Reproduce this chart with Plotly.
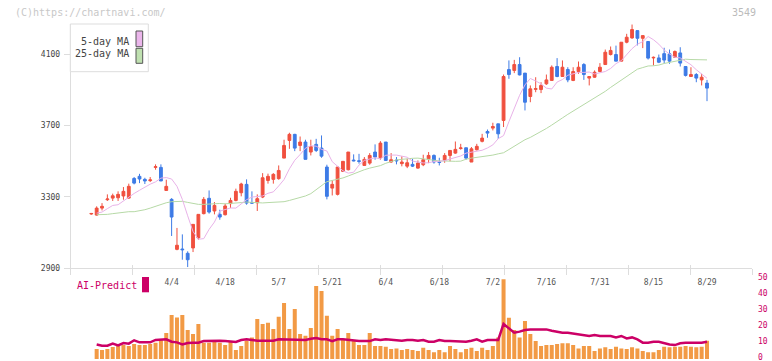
import plotly.graph_objects as go

W, H = 772, 361

# ---------------- data ----------------
# trading days 2024-03-13 .. 2024-08-29, index 0..115
opens = [3204, 3198, 3237, 3284, 3293, 3295, 3305, 3293, 3403, 3415,
         3398, 3391, 3465, 3465, 3336, 3286, 3006, 3008, 2984, 3014,
         3070, 3206, 3292, 3221, 3202, 3200, 3262, 3280, 3323, 3370,
         3268, 3267, 3299, 3392, 3398, 3402, 3517, 3616, 3650, 3588,
         3607, 3551, 3594, 3573, 3467, 3349, 3314, 3443, 3452, 3506,
         3502, 3476, 3489, 3551, 3519, 3607, 3495, 3506, 3486, 3472,
         3482, 3461, 3480, 3513, 3532, 3497, 3504, 3532, 3545, 3571,
         3575, 3495, 3564, 3611, 3666, 3685, 3709, 3728, 4013, 4008,
         4041, 3993, 3862, 3902, 3901, 3933, 3952, 4030, 3974, 4013,
         3952, 4002, 4041, 3965, 3970, 4002, 4041, 4097, 4097, 4060,
         4166, 4190, 4231, 4188, 4170, 4078, 4078, 4102, 4101, 4082,
         4106, 4030, 3974, 3985, 3955, 3937]
highs = [3210, 3247, 3265, 3314, 3318, 3331, 3355, 3374, 3411, 3429,
         3407, 3411, 3482, 3482, 3396, 3293, 3126, 3090, 2995, 3146,
         3202, 3299, 3336, 3271, 3228, 3262, 3295, 3346, 3379, 3398,
         3331, 3314, 3433, 3430, 3433, 3476, 3620, 3659, 3653, 3638,
         3620, 3620, 3625, 3644, 3480, 3392, 3467, 3499, 3551, 3538,
         3541, 3523, 3545, 3594, 3612, 3607, 3545, 3523, 3527, 3513,
         3513, 3504, 3536, 3551, 3538, 3519, 3545, 3560, 3610, 3597,
         3575, 3579, 3597, 3653, 3677, 3715, 3709, 3985, 4064, 4067,
         4082, 3993, 3924, 3970, 3942, 3985, 4036, 4077, 4064, 4026,
         4026, 4058, 4049, 3974, 4008, 4049, 4125, 4142, 4147, 4166,
         4213, 4265, 4231, 4203, 4170, 4086, 4097, 4135, 4125, 4120,
         4138, 4030, 4026, 3993, 3989, 3955]
lows = [3200, 3195, 3224, 3277, 3277, 3277, 3284, 3290, 3370, 3377,
        3372, 3383, 3452, 3389, 3336, 3081, 3001, 2948, 2907, 2991,
        3060, 3202, 3206, 3202, 3172, 3196, 3237, 3275, 3303, 3256,
        3262, 3221, 3293, 3374, 3374, 3396, 3517, 3569, 3556, 3556,
        3510, 3532, 3551, 3519, 3286, 3308, 3308, 3439, 3448, 3499,
        3486, 3476, 3480, 3508, 3508, 3504, 3491, 3482, 3471, 3461,
        3467, 3458, 3472, 3489, 3486, 3476, 3491, 3499, 3541, 3564,
        3508, 3495, 3560, 3605, 3631, 3672, 3625, 3691, 3961, 3993,
        3980, 3784, 3830, 3886, 3881, 3927, 3952, 3970, 3974, 3942,
        3948, 3989, 3955, 3924, 3967, 3998, 4041, 4092, 4060, 4060,
        4160, 4185, 4148, 4133, 4069, 4036, 4049, 4048, 4045, 4078,
        4030, 3974, 3974, 3942, 3924, 3836]
closes = [3207, 3237, 3247, 3288, 3306, 3314, 3331, 3359, 3377, 3400,
          3389, 3395, 3469, 3389, 3359, 3187, 3029, 3004, 2948, 3146,
          3202, 3286, 3215, 3252, 3187, 3249, 3280, 3331, 3372, 3265,
          3265, 3290, 3407, 3415, 3426, 3448, 3588, 3650, 3573, 3607,
          3510, 3582, 3560, 3528, 3303, 3370, 3467, 3499, 3551, 3502,
          3499, 3510, 3532, 3523, 3601, 3504, 3508, 3502, 3495, 3491,
          3472, 3489, 3508, 3532, 3495, 3493, 3532, 3560, 3566, 3574,
          3517, 3569, 3583, 3629, 3657, 3694, 3653, 3974, 3985, 4041,
          3983, 3830, 3905, 3906, 3924, 3955, 4026, 3974, 4026, 3955,
          4002, 4026, 3985, 3974, 3998, 4026, 4110, 4120, 4060, 4166,
          4194, 4237, 4188, 4203, 4077, 4081, 4054, 4066, 4060, 4114,
          4049, 3980, 3985, 3965, 3970, 3909]
days = list(range(len(closes)))
line_days = days[1:]

ma5 = [3209, 3215, 3234, 3252, 3256, 3278, 3297, 3319, 3337, 3356,
       3371, 3384, 3405, 3408, 3400, 3359, 3286, 3194, 3106, 3063,
       3066, 3118, 3159, 3220, 3228, 3238, 3237, 3260, 3284, 3299,
       3303, 3305, 3320, 3328, 3361, 3397, 3457, 3505, 3537, 3573,
       3586, 3584, 3566, 3557, 3497, 3469, 3446, 3433, 3438, 3478,
       3504, 3512, 3519, 3513, 3533, 3534, 3534, 3528, 3522, 3500,
       3494, 3490, 3491, 3498, 3499, 3503, 3512, 3522, 3529, 3545,
       3550, 3557, 3561, 3574, 3591, 3626, 3643, 3721, 3793, 3869,
       3927, 3963, 3949, 3933, 3909, 3904, 3943, 3957, 3981, 3987,
       3997, 3997, 3999, 3988, 3997, 4002, 4019, 4046, 4063, 4096,
       4130, 4155, 4169, 4198, 4180, 4155, 4122, 4100, 4082, 4078,
       4060, 4040, 4012, 3988, 3964]
ma25 = [3200, 3200, 3202, 3206, 3211, 3215, 3217, 3217, 3221, 3228,
        3237, 3247, 3258, 3267, 3273, 3276, 3275, 3269, 3262, 3258,
        3258, 3260, 3262, 3263, 3261, 3262, 3264, 3268, 3271, 3269,
        3267, 3266, 3268, 3269, 3270, 3273, 3280, 3288, 3295, 3305,
        3318, 3340, 3362, 3385, 3392, 3398, 3406, 3417, 3429, 3442,
        3452, 3461, 3469, 3475, 3488, 3498, 3507, 3510, 3514, 3516,
        3517, 3513, 3507, 3506, 3501, 3501, 3499, 3499, 3500, 3511,
        3517, 3521, 3524, 3527, 3534, 3541, 3547, 3565, 3583, 3601,
        3620, 3633, 3649, 3665, 3683, 3702, 3724, 3742, 3762, 3780,
        3801, 3820, 3837, 3854, 3871, 3891, 3913, 3934, 3952, 3972,
        3992, 4015, 4024, 4033, 4034, 4038, 4047, 4053, 4059, 4067,
        4071, 4069, 4069, 4067, 4067]

ai_bars = [6.2, 5.6, 6.2, 7.5, 8.1, 8.7, 8.1, 9.4, 8.7, 8.7,
           9.4, 10.2, 12.3, 16.2, 27.5, 26.0, 27.5, 18.1, 15.6, 21.9,
           10.2, 10.2, 11.4, 10.2, 8.7, 10.8, 5.6, 8.1, 11.4, 13.5,
           25.0, 21.9, 22.7, 18.7, 26.4, 35.0, 18.7, 31.2, 15.6, 14.6,
           19.4, 45.6, 42.5, 27.1, 14.6, 18.7, 12.3, 16.2, 11.4, 8.7,
           8.7, 16.2, 8.1, 8.1, 7.7, 6.2, 6.6, 5.6, 6.2, 5.6,
           5.0, 7.1, 5.6, 4.2, 5.6, 4.2, 8.1, 6.2, 4.2, 6.2,
           7.1, 5.0, 7.1, 5.6, 8.1, 13.5, 49.8, 25.8, 18.1, 13.5,
           23.7, 15.6, 11.2, 8.1, 8.7, 8.7, 9.4, 9.8, 9.8, 8.7,
           6.6, 8.1, 8.1, 5.0, 6.6, 7.3, 6.2, 7.7, 6.6, 6.2,
           7.3, 6.6, 5.0, 4.2, 4.2, 5.6, 7.7, 7.3, 7.7, 7.7,
           8.1, 7.7, 7.3, 7.7, 11.4]
ai_line = [9.1, 8.3, 8.3, 9.6, 8.5, 10.0, 9.6, 11.7, 10.4, 10.4,
           10.4, 11.9, 12.3, 12.3, 10.8, 10.4, 9.1, 10.0, 10.2, 10.2,
           11.2, 11.4, 11.4, 11.4, 11.2, 11.0, 10.6, 11.9, 12.3, 11.9,
           11.4, 11.4, 11.4, 11.4, 12.3, 12.3, 12.3, 12.3, 12.3, 11.9,
           12.7, 13.1, 12.3, 12.3, 11.2, 12.3, 12.3, 11.9, 11.2, 11.2,
           11.2, 11.2, 12.3, 11.9, 12.3, 11.9, 11.4, 11.4, 11.9, 11.9,
           11.4, 11.9, 10.8, 10.8, 11.9, 11.2, 11.2, 11.2, 11.2, 10.8,
           11.4, 12.3, 10.8, 11.9, 11.9, 11.9, 21.9, 19.1, 16.4, 17.1,
           18.1, 18.5, 18.5, 18.5, 18.5, 17.7, 17.1, 16.4, 16.4, 16.0,
           15.6, 15.0, 14.4, 15.0, 14.4, 14.4, 14.4, 13.5, 14.4, 12.9,
           13.5, 12.3, 10.2, 10.2, 10.8, 10.8, 9.8, 9.1, 8.7, 9.8,
           10.2, 10.2, 10.2, 10.2, 10.8]

date_labels = ["4/4", "4/18", "5/7", "5/21", "6/4", "6/18",
               "7/2", "7/16", "7/31", "8/15", "8/29"]
date_label_days = [15, 25, 35, 45, 55, 65, 75, 85, 95, 105, 115]
price_ticks = [2900, 3300, 3700, 4100]
ai_ticks = [0, 10, 20, 30, 40, 50]

# ---------------- styles ----------------
UP = "#f0503f"
DN = "#3d7be6"
MA5_C = "#e8b2e8"
MA25_C = "#b6d9a6"
BAR_C = "#f29a45"
AI_C = "#cc0066"
AXIS_C = "#dddddd"
FONT = "DejaVu Sans Mono"


def px(v):
    return v / W


def py(v):
    return 1 - v / H


X_DOM = [px(70.7), px(752.3)]
X_RANGE = [-3.85, 123.46]

fig = go.Figure()

fig.add_trace(go.Bar(
    x=line_days, y=ai_bars, width=0.75, marker=dict(color=BAR_C, line=dict(width=0)),
    xaxis="x2", yaxis="y2", hoverinfo="skip"))
fig.add_trace(go.Scatter(
    x=line_days, y=ai_line, mode="lines", line=dict(color=AI_C, width=2.5),
    xaxis="x2", yaxis="y2", hoverinfo="skip"))

fig.add_trace(go.Scatter(
    x=line_days, y=ma25, mode="lines", line=dict(color=MA25_C, width=1),
    xaxis="x", yaxis="y", hoverinfo="skip"))
fig.add_trace(go.Scatter(
    x=line_days, y=ma5, mode="lines", line=dict(color=MA5_C, width=1),
    xaxis="x", yaxis="y", hoverinfo="skip"))

fig.add_trace(go.Candlestick(
    x=days, open=opens, high=highs, low=lows, close=closes,
    increasing=dict(line=dict(color=UP, width=1), fillcolor=UP),
    decreasing=dict(line=dict(color=DN, width=1), fillcolor=DN),
    whiskerwidth=0, xaxis="x", yaxis="y", hoverinfo="skip"))

# empty helpers so the tick-mark overlay axes are drawn
fig.add_trace(go.Scatter(x=[], y=[], xaxis="x3", yaxis="y", hoverinfo="skip"))
fig.add_trace(go.Scatter(x=[], y=[], xaxis="x4", yaxis="y", hoverinfo="skip"))

tick_axis = dict(overlaying="x", anchor="y", domain=X_DOM, range=[0, 11],
                 tickmode="linear", tick0=0, dtick=1, showticklabels=False,
                 showline=False, showgrid=False, zeroline=False,
                 tickcolor=AXIS_C, tickwidth=1, automargin=False)

fig.update_layout(
    width=W, height=H, margin=dict(l=0, r=0, t=0, b=0, pad=0, autoexpand=False),
    paper_bgcolor="white", plot_bgcolor="white", showlegend=False,
    font=dict(family=FONT), boxgap=0.25,
    xaxis=dict(domain=X_DOM, range=X_RANGE, anchor="y", automargin=False,
               rangeslider=dict(visible=False),
               tickmode="array", tickvals=date_label_days, ticktext=date_labels,
               ticks="", showline=True, linecolor=AXIS_C, linewidth=1,
               showgrid=False, zeroline=False, ticklabelstandoff=6,
               tickfont=dict(family=FONT, size=8, color="#555555")),
    xaxis3=dict(tick_axis, ticks="outside", ticklen=6),
    xaxis4=dict(tick_axis, ticks="inside", ticklen=3),
    yaxis=dict(domain=[py(268.3), py(24)], range=[2900, 4268], anchor="x",
               automargin=False,
               tickmode="array", tickvals=price_ticks,
               ticks="outside", ticklen=6, tickcolor=AXIS_C,
               showline=True, linecolor=AXIS_C, linewidth=1,
               showgrid=False, zeroline=False, ticklabelstandoff=2,
               tickfont=dict(family=FONT, size=8, color="#444444")),
    xaxis2=dict(domain=X_DOM, range=X_RANGE, anchor="y2", visible=False,
                automargin=False),
    yaxis2=dict(domain=[0, py(270)], range=[-1.25, 55.625], anchor="x2",
                automargin=False, ticklabeloverflow="allow", ticklabelshift=-2,
                side="right", tickmode="array", tickvals=ai_ticks,
                ticks="outside", ticklen=3, tickcolor="rgba(0,0,0,0)",
                showline=False, showgrid=False, zeroline=False,
                tickfont=dict(family=FONT, size=8, color=AI_C)),
)

shapes = [
    dict(type="rect", xref="paper", yref="paper", layer="above",
         x0=px(70.3), x1=px(148.3), y0=py(71.7), y1=py(24),
         line=dict(color=AXIS_C, width=1), fillcolor="white"),
    dict(type="rect", xref="paper", yref="paper", layer="above",
         x0=px(136), x1=px(142.7), y0=py(46.7), y1=py(31),
         line=dict(color="#555555", width=1), fillcolor="#ebb6eb"),
    dict(type="rect", xref="paper", yref="paper", layer="above",
         x0=px(136), x1=px(142.7), y0=py(63.3), y1=py(48.3),
         line=dict(color="#555555", width=1), fillcolor="#bfe0b0"),
    dict(type="rect", xref="paper", yref="paper", layer="above",
         x0=px(142), x1=px(149), y0=py(292.3), y1=py(277),
         line=dict(width=0), fillcolor=AI_C),
]
fig.update_layout(shapes=shapes)

annotations = [
    dict(text="(C)https://chartnavi.com/", x=px(13), y=py(12), xanchor="left",
         yanchor="middle", font=dict(family=FONT, size=10, color="#c8c8c8")),
    dict(text="3549", x=px(758), y=py(12), xanchor="right", yanchor="middle",
         font=dict(family=FONT, size=10, color="#bbbbbb")),
    dict(text="5-day MA", x=px(131), y=py(41.5), xanchor="right", yanchor="middle",
         font=dict(family=FONT, size=10, color="#444444")),
    dict(text="25-day MA", x=px(131), y=py(53.3), xanchor="right", yanchor="middle",
         font=dict(family=FONT, size=10, color="#444444")),
    dict(text="AI-Predict", x=px(74.5), y=py(285.7), xanchor="left", yanchor="middle",
         font=dict(family=FONT, size=10, color=AI_C)),
]
for a in annotations:
    a.update(xref="paper", yref="paper", showarrow=False)
fig.update_layout(annotations=annotations)

# page body without the browser's default 8px margin; no mode bar
fig.write_html("out.html",
               config={"displayModeBar": False},
               post_script="document.body.style.margin='0';"
                           "document.body.style.overflow='hidden';")
